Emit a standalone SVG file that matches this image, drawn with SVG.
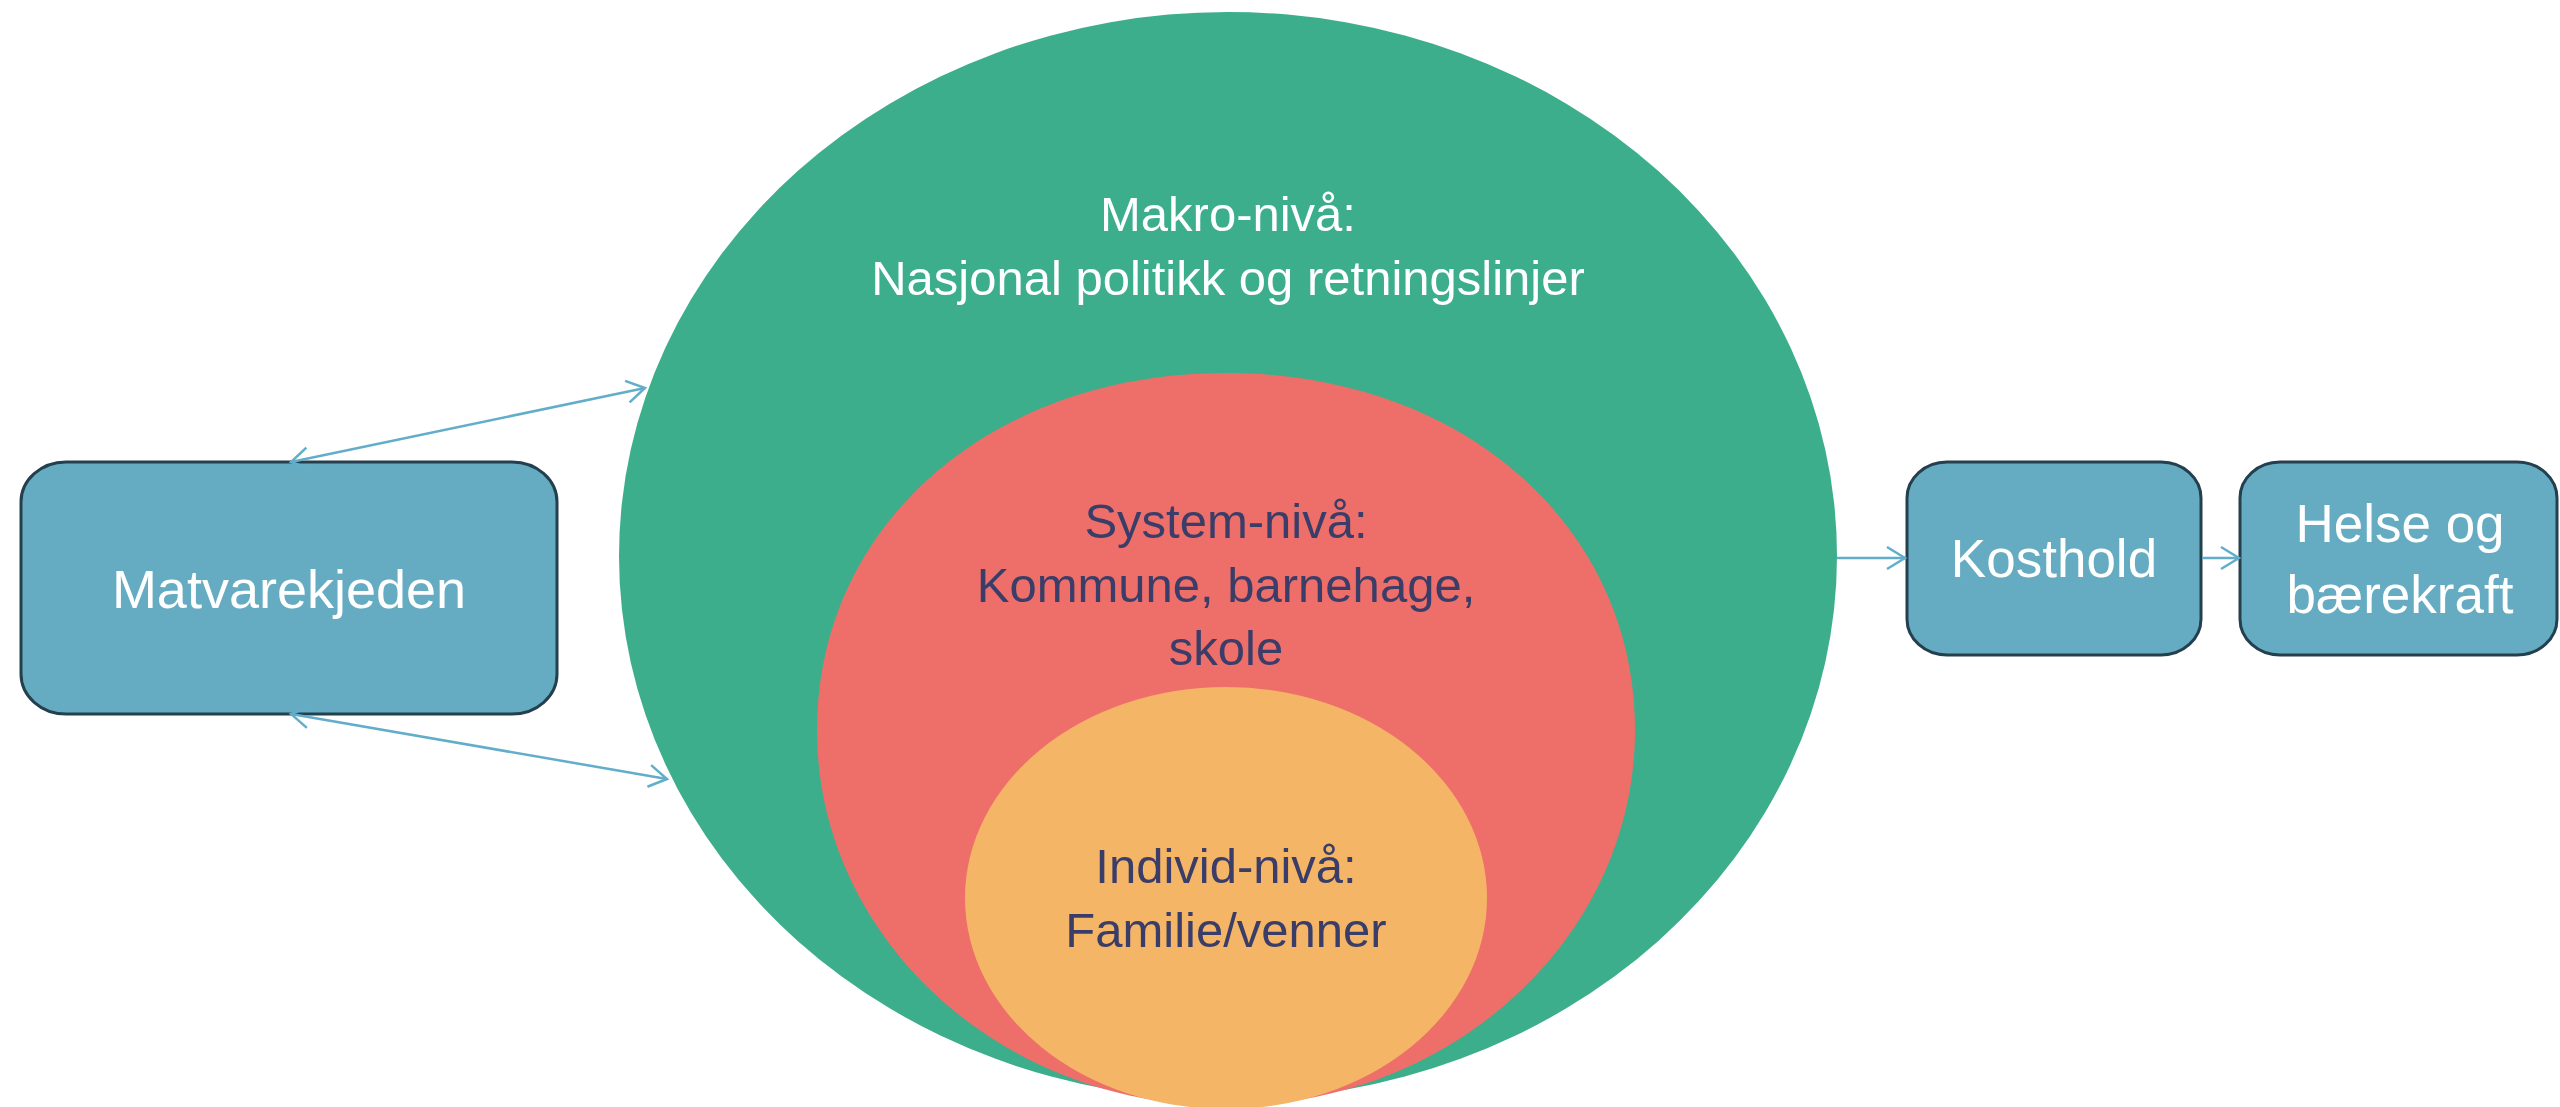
<svg xmlns="http://www.w3.org/2000/svg" width="2560" height="1107" viewBox="0 0 2560 1107">
<style>
.box{fill:#65ACC2;stroke:#243F4E;stroke-width:3}
.wt{font-family:"Liberation Sans",Arial,sans-serif;fill:#FFFFFF;text-anchor:middle}
.dk{font-family:"Liberation Sans",Arial,sans-serif;fill:#3A3D68;text-anchor:middle;font-size:49px}
.con{stroke:#62AECA;stroke-width:2.5;fill:none}
</style>
<defs>
<marker id="ah" markerUnits="userSpaceOnUse" markerWidth="26" markerHeight="26" viewBox="0 0 26 26" refX="21" refY="13" orient="auto-start-reverse">
<path d="M3,2 L21,13 L3,24" fill="none" stroke="#62AECA" stroke-width="2.5"/>
</marker>
</defs>
<rect width="2560" height="1107" fill="#FFFFFF"/>
<g id="makro">
<ellipse cx="1228" cy="556" rx="609" ry="544" fill="#3CAE8C"/>
<text class="wt" font-size="49" x="1228" y="231">Makro-nivå:</text>
<text class="wt" font-size="49" x="1228" y="295">Nasjonal politikk og retningslinjer</text>
</g>
<g id="system">
<path d="M817,730 C817,524.7 990.8,373 1226,373 C1461.2,373 1635,524.7 1635,730 C1635,937.7 1451.9,1106 1226,1106 C1000.1,1106 817,937.7 817,730 Z" fill="#EE6F6A"/>
<text class="dk" x="1226" y="538">System-nivå:</text>
<text class="dk" x="1226" y="602">Kommune, barnehage,</text>
<text class="dk" x="1226" y="665">skole</text>
</g>
<g id="individ">
<ellipse cx="1226" cy="898" rx="261" ry="211" fill="#F5B566"/>
<text class="dk" x="1226" y="883">Individ-nivå:</text>
<text class="dk" x="1226" y="947">Familie/venner</text>
</g>
<g id="matvarekjeden">
<rect class="box" x="21" y="462" width="536" height="252" rx="45" ry="40"/>
<text class="wt" font-size="54" x="289" y="608">Matvarekjeden</text>
</g>
<g id="kosthold">
<rect class="box" x="1907" y="462" width="294" height="193" rx="40" ry="36"/>
<text class="wt" font-size="53" x="2054" y="577">Kosthold</text>
</g>
<g id="helse">
<rect class="box" x="2240" y="462" width="317" height="193" rx="40" ry="36"/>
<text class="wt" font-size="53" x="2400" y="542">Helse og</text>
<text class="wt" font-size="53" x="2400" y="613">bærekraft</text>
</g>
<g id="connectors">
<line class="con" x1="291" y1="462" x2="645" y2="388" marker-start="url(#ah)" marker-end="url(#ah)"/>
<line class="con" x1="291" y1="714" x2="667" y2="779" marker-start="url(#ah)" marker-end="url(#ah)"/>
<line class="con" x1="1837" y1="558" x2="1905" y2="558" marker-end="url(#ah)"/>
<line class="con" x1="2202" y1="558" x2="2239" y2="558" marker-end="url(#ah)"/>
</g>
</svg>
